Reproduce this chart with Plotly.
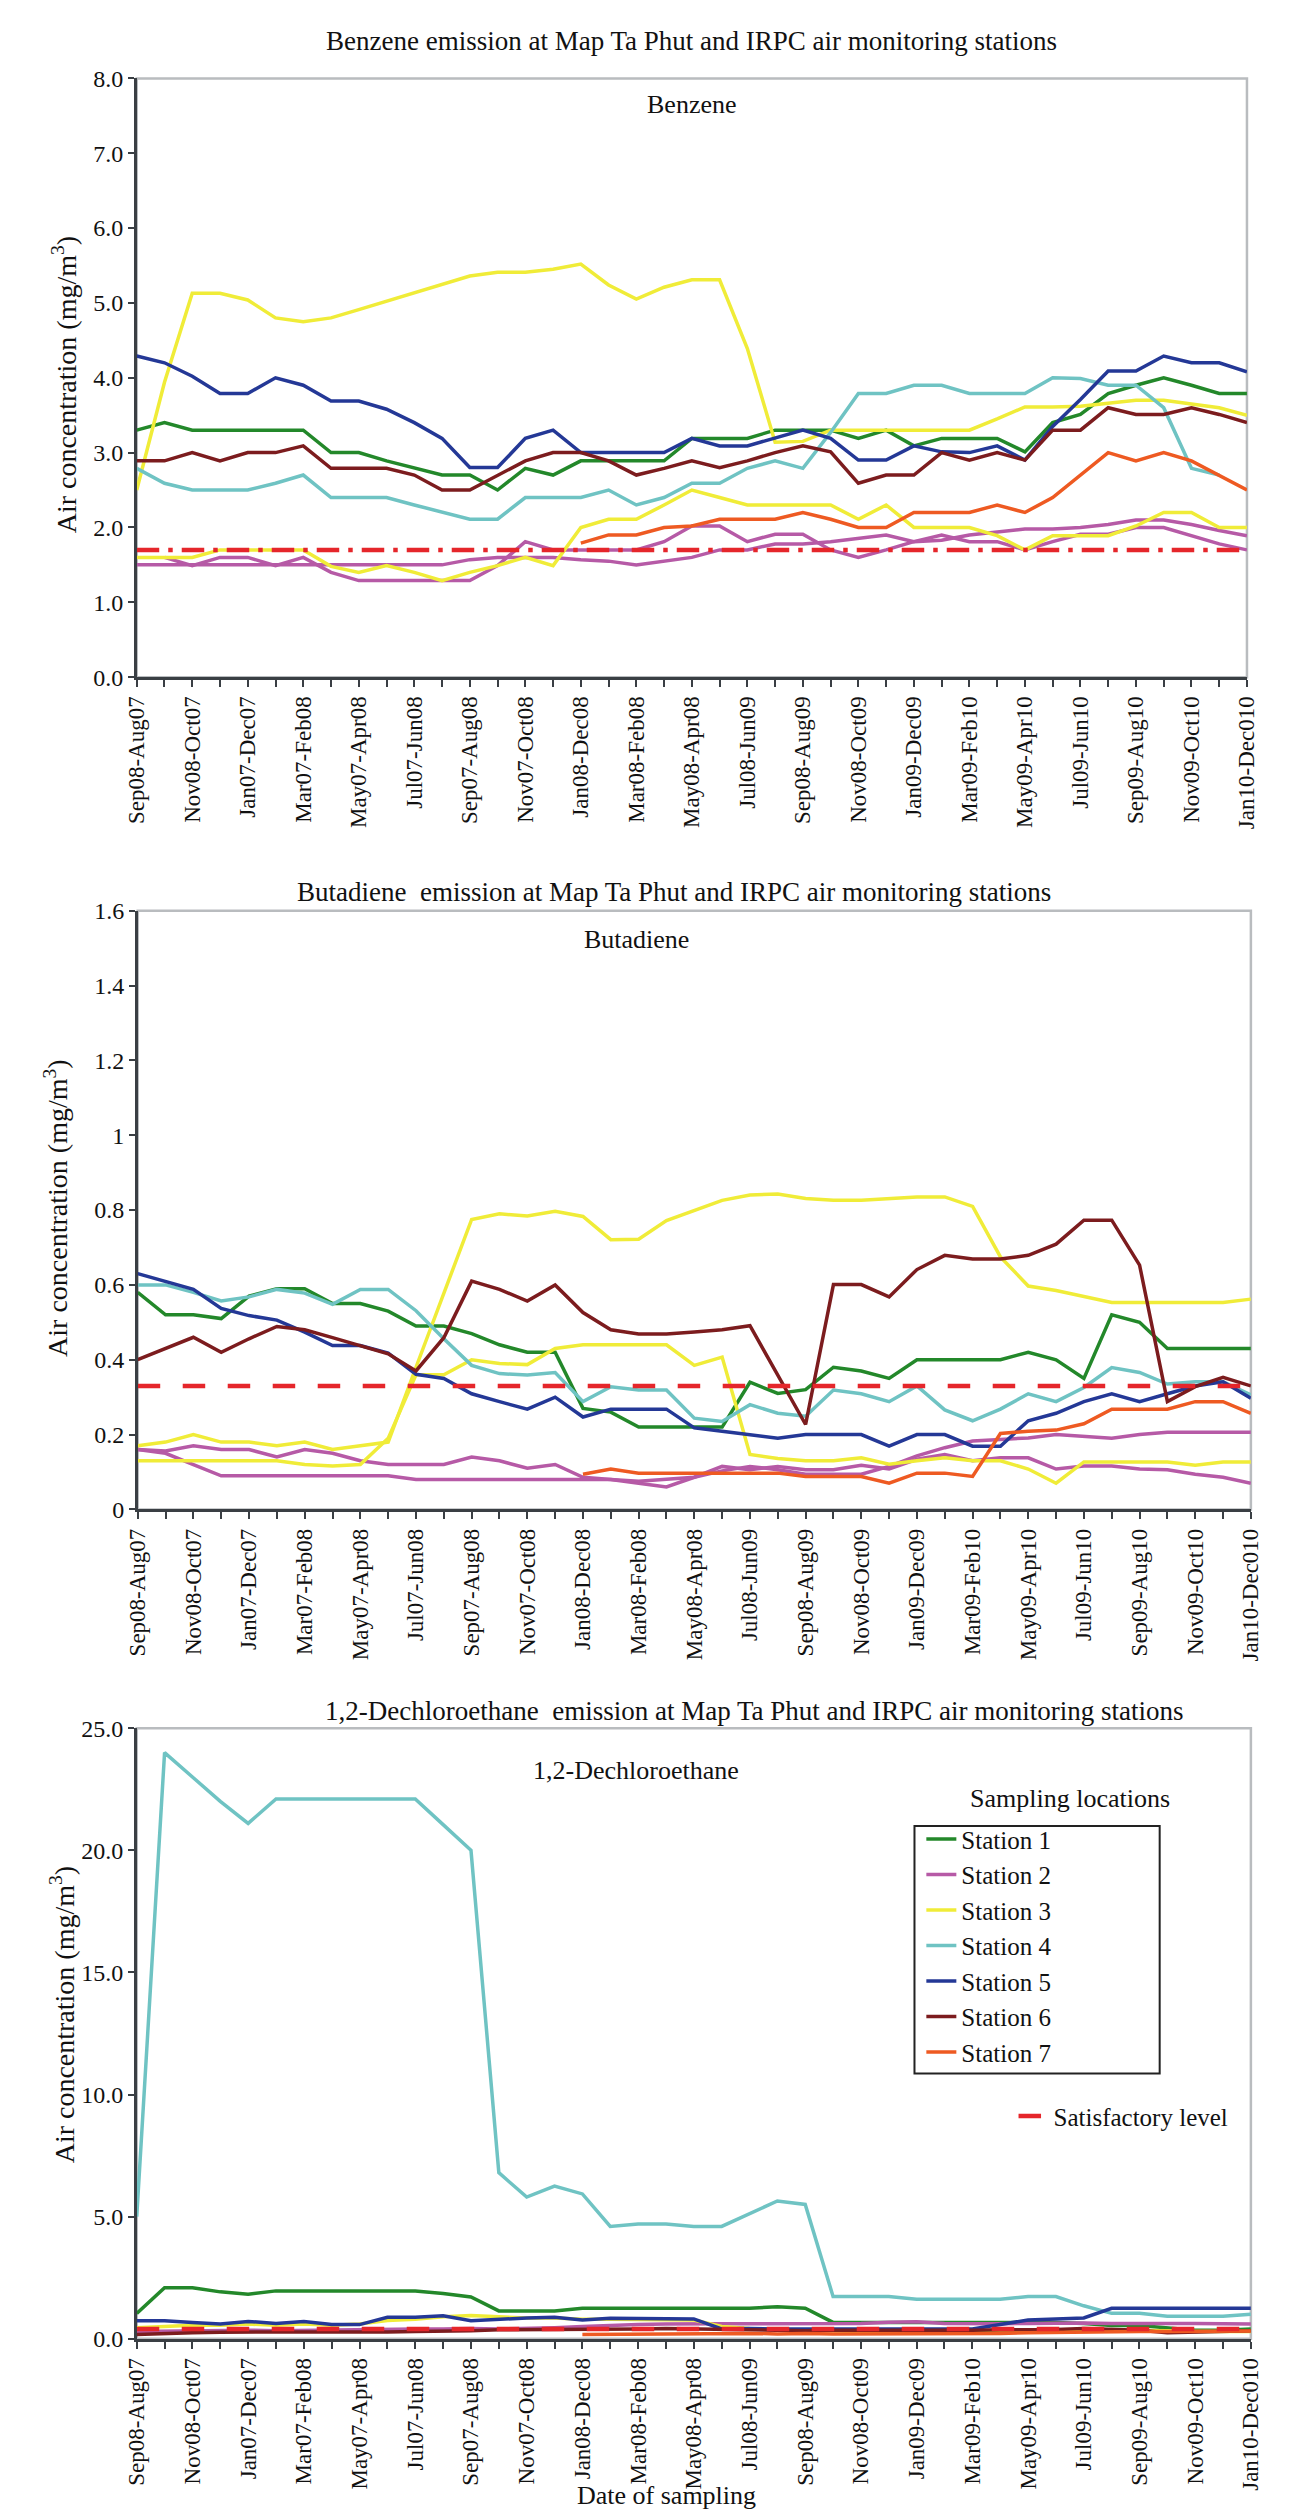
import plotly.graph_objects as go

W, H = 1300, 2512
FONT = "Liberation Serif, Times New Roman, serif"

# ---------------- data ----------------
x_idx = list(range(41))
tick_labels = ["Sep08-Aug07", "Nov08-Oct07", "Jan07-Dec07", "Mar07-Feb08", "May07-Apr08",
               "Jul07-Jun08", "Sep07-Aug08", "Nov07-Oct08", "Jan08-Dec08", "Mar08-Feb08",
               "May08-Apr08", "Jul08-Jun09", "Sep08-Aug09", "Nov08-Oct09", "Jan09-Dec09",
               "Mar09-Feb10", "May09-Apr10", "Jul09-Jun10", "Sep09-Aug10", "Nov09-Oct10",
               "Jan10-Dec010"]

station_names = ["Station 1", "Station 2", "Station 3", "Station 4", "Station 5", "Station 6", "Station 7"]
station_colors = ["#23882a", "#b65aa6", "#f0ec38", "#6fc3c3", "#243896", "#7c1c1e", "#ee5a22"]
limit_color = "#e5262b"

# Benzene
benzene_s1 = [3.3, 3.4, 3.3, 3.3, 3.3, 3.3, 3.3, 3.0, 3.0, 2.89, 2.79, 2.7, 2.7, 2.5, 2.79, 2.7, 2.89, 2.89, 2.89, 2.89, 3.19,
              3.19, 3.19, 3.3, 3.3, 3.3, 3.19, 3.3, 3.09, 3.19, 3.19, 3.19, 3.01, 3.4, 3.51, 3.79, 3.9, 4.0, 3.9, 3.79, 3.79]
benzene_s2a = [1.5, 1.5, 1.5, 1.5, 1.5, 1.5, 1.5, 1.5, 1.5, 1.5, 1.5, 1.5, 1.57, 1.6, 1.6, 1.6, 1.57, 1.55, 1.5, 1.55, 1.6,
               1.7, 1.7, 1.78, 1.78, 1.81, 1.86, 1.9, 1.81, 1.83, 1.9, 1.94, 1.98, 1.98, 2.0, 2.04, 2.1, 2.1, 2.04, 1.96, 1.89]
benzene_s2b = [None, 1.6, 1.49, 1.6, 1.6, 1.49, 1.6, 1.4, 1.29, 1.29, 1.29, 1.29, 1.29, 1.49, 1.81, 1.7, 1.7, 1.7, 1.7, 1.81, 2.02,
               2.02, 1.81, 1.91, 1.91, 1.7, 1.6, 1.7, 1.81, 1.9, 1.81, 1.81, 1.7, 1.81, 1.91, 1.91, 2.0, 2.0, 1.89, 1.78, 1.7]
benzene_s3a = [2.5, 3.94, 5.13, 5.13, 5.04, 4.8, 4.75, 4.8, 4.91, 5.02, 5.13, 5.24, 5.36, 5.41, 5.41, 5.45, 5.52, 5.24, 5.05, 5.21, 5.31,
               5.31, 4.39, 3.14, 3.15, 3.3, 3.3, 3.3, 3.3, 3.3, 3.3, 3.45, 3.61, 3.61, 3.62, 3.66, 3.7, 3.7, 3.65, 3.6, 3.5]
benzene_s3b = [1.6, 1.6, 1.6, 1.7, 1.7, 1.7, 1.7, 1.48, 1.4, 1.49, 1.4, 1.29, 1.4, 1.49, 1.6, 1.49, 2.0, 2.11, 2.11, 2.3, 2.5,
               2.4, 2.3, 2.3, 2.3, 2.3, 2.11, 2.3, 2.0, 2.0, 2.0, 1.89, 1.7, 1.89, 1.89, 1.89, 2.02, 2.2, 2.2, 2.0, 2.0]
benzene_s4 = [2.79, 2.59, 2.5, 2.5, 2.5, 2.59, 2.7, 2.4, 2.4, 2.4, 2.3, 2.2, 2.11, 2.11, 2.4, 2.4, 2.4, 2.5, 2.3, 2.4, 2.59,
              2.59, 2.79, 2.89, 2.79, 3.27, 3.79, 3.79, 3.9, 3.9, 3.79, 3.79, 3.79, 4.0, 3.99, 3.9, 3.9, 3.6, 2.79, 2.7, None]
benzene_s5 = [4.29, 4.2, 4.02, 3.79, 3.79, 4.0, 3.9, 3.69, 3.69, 3.58, 3.4, 3.19, 2.8, 2.8, 3.19, 3.3, 3.0, 3.0, 3.0, 3.0, 3.19,
              3.09, 3.09, 3.19, 3.3, 3.19, 2.9, 2.9, 3.09, 3.01, 3.0, 3.09, 2.9, 3.35, 3.71, 4.09, 4.09, 4.29, 4.2, 4.2, 4.08]
benzene_s6 = [2.89, 2.89, 3.0, 2.89, 3.0, 3.0, 3.09, 2.79, 2.79, 2.79, 2.7, 2.5, 2.5, 2.7, 2.89, 3.0, 3.0, 2.89, 2.7, 2.79, 2.89,
              2.8, 2.89, 3.0, 3.09, 3.01, 2.59, 2.7, 2.7, 3.0, 2.9, 3.0, 2.9, 3.3, 3.3, 3.6, 3.51, 3.51, 3.6, 3.51, 3.4]
benzene_s7 = [None] * 16 + [1.79, 1.9, 1.9, 2.0, 2.02,
                            2.11, 2.11, 2.11, 2.2, 2.11, 2.0, 2.0, 2.2, 2.2, 2.2, 2.3, 2.2, 2.4, 2.7, 3.0, 2.89, 3.0, 2.89, 2.7, 2.5]
benzene_limit = 1.7

# Butadiene
butadiene_s1 = [0.58, 0.52, 0.52, 0.51, 0.57, 0.59, 0.59, 0.55, 0.55, 0.53, 0.49, 0.49, 0.47, 0.44, 0.42, 0.42, 0.27, 0.26, 0.22, 0.22, 0.22,
                0.22, 0.34, 0.31, 0.32, 0.38, 0.37, 0.35, 0.4, 0.4, 0.4, 0.4, 0.42, 0.4, 0.35, 0.52, 0.5, 0.43, 0.43, 0.43, 0.43]
butadiene_s2a = [0.16, 0.156, 0.17, 0.16, 0.16, 0.14, 0.16, 0.15, 0.13, 0.12, 0.12, 0.12, 0.14, 0.13, 0.11, 0.12, 0.086, 0.08, 0.07, 0.06, 0.086,
                 0.115, 0.106, 0.115, 0.106, 0.106, 0.118, 0.108, 0.134, 0.147, 0.13, 0.138, 0.138, 0.108, 0.116, 0.116, 0.108, 0.106, 0.094, 0.086, 0.07]
butadiene_s2b = [0.16, 0.15, 0.12, 0.09, 0.09, 0.09, 0.09, 0.09, 0.09, 0.09, 0.08, 0.08, 0.08, 0.08, 0.08, 0.08, 0.08, 0.08, 0.075, 0.08, 0.086,
                 0.103, 0.115, 0.106, 0.094, 0.094, 0.094, 0.115, 0.143, 0.165, 0.183, 0.187, 0.191, 0.2, 0.196, 0.19, 0.2, 0.206, 0.206, 0.206, 0.206]
butadiene_s3a = [0.17, 0.18, 0.2, 0.18, 0.18, 0.17, 0.18, 0.16, 0.17, 0.18, 0.38, 0.58, 0.775, 0.79, 0.784, 0.797, 0.783, 0.721, 0.722, 0.772, 0.8,
                 0.826, 0.84, 0.843, 0.831, 0.826, 0.826, 0.83, 0.835, 0.835, 0.81, 0.675, 0.597, 0.585, 0.569, 0.553, 0.553, 0.553, 0.553, 0.553, 0.562]
butadiene_s3b = [0.13, 0.13, 0.13, 0.13, 0.13, 0.13, 0.12, 0.116, 0.12, 0.19, 0.36, 0.36, 0.4, 0.39, 0.387, 0.43, 0.44, 0.44, 0.44, 0.44, 0.385,
                 0.407, 0.147, 0.136, 0.13, 0.13, 0.138, 0.121, 0.13, 0.138, 0.13, 0.13, 0.108, 0.07, 0.127, 0.127, 0.127, 0.127, 0.118, 0.127, 0.127]
butadiene_s4 = [0.6, 0.6, 0.58, 0.557, 0.568, 0.588, 0.578, 0.548, 0.588, 0.588, 0.531, 0.456, 0.385, 0.363, 0.359, 0.366, 0.288, 0.328, 0.319, 0.319, 0.244,
                0.235, 0.28, 0.257, 0.249, 0.319, 0.309, 0.288, 0.33, 0.266, 0.237, 0.268, 0.309, 0.288, 0.326, 0.379, 0.366, 0.335, 0.341, 0.341, 0.306]
butadiene_s5 = [0.63, 0.61, 0.588, 0.537, 0.518, 0.506, 0.474, 0.438, 0.438, 0.418, 0.361, 0.35, 0.309, 0.288, 0.268, 0.3, 0.247, 0.268, 0.268, 0.268, 0.218,
                0.209, 0.2, 0.19, 0.2, 0.2, 0.2, 0.169, 0.2, 0.2, 0.169, 0.169, 0.237, 0.257, 0.288, 0.309, 0.288, 0.309, 0.33, 0.341, 0.297]
butadiene_s6 = [0.4, 0.43, 0.46, 0.42, 0.456, 0.489, 0.48, 0.459, 0.437, 0.416, 0.37, 0.459, 0.61, 0.588, 0.557, 0.6, 0.526, 0.48, 0.469, 0.469, 0.474,
                0.48, 0.491, 0.359, 0.227, 0.601, 0.601, 0.568, 0.641, 0.679, 0.669, 0.669, 0.679, 0.709, 0.773, 0.773, 0.653, 0.288, 0.328, 0.353, 0.33]
butadiene_s7 = [None] * 16 + [0.094, 0.108, 0.097, 0.097, 0.097,
                              0.097, 0.097, 0.097, 0.088, 0.088, 0.088, 0.07, 0.097, 0.097, 0.088, 0.203, 0.209, 0.212, 0.229, 0.268, 0.268, 0.268, 0.288, 0.288, 0.257]
butadiene_limit = 0.33

# 1,2-Dichloroethane
dce_s1 = [1.04, 2.09, 2.09, 1.92, 1.82, 1.96, 1.96, 1.96, 1.96, 1.96, 1.96, 1.85, 1.71, 1.14, 1.14, 1.14, 1.25, 1.25, 1.25, 1.25, 1.25,
          1.25, 1.25, 1.31, 1.25, 0.67, 0.67, 0.67, 0.67, 0.67, 0.67, 0.67, 0.67, 0.67, 0.62, 0.54, 0.54, 0.45, 0.35, 0.35, 0.4]
dce_s2 = [0.3, 0.32, 0.33, 0.33, 0.35, 0.33, 0.35, 0.35, 0.38, 0.38, 0.4, 0.4, 0.42, 0.4, 0.42, 0.45, 0.5, 0.55, 0.58, 0.6, 0.62,
          0.61, 0.61, 0.61, 0.61, 0.63, 0.63, 0.68, 0.7, 0.63, 0.61, 0.61, 0.63, 0.65, 0.65, 0.63, 0.63, 0.65, 0.63, 0.61, 0.6]
dce_s3 = [0.45, 0.5, 0.55, 0.55, 0.6, 0.55, 0.6, 0.55, 0.6, 0.75, 0.8, 0.9, 0.95, 0.9, 0.85, 0.85, 0.8, 0.8, 0.8, 0.78, 0.77,
          0.5, 0.42, 0.38, 0.35, 0.32, 0.3, 0.3, 0.32, 0.3, 0.3, 0.32, 0.3, 0.32, 0.33, 0.35, 0.35, 0.33, 0.3, 0.3, 0.3]
dce_s4 = [5.0, 24.0, 23.0, 22.0, 21.1, 22.1, 22.1, 22.1, 22.1, 22.1, 22.1, 21.05, 20.0, 6.8, 5.8, 6.25, 5.93, 4.6, 4.7, 4.7, 4.6,
          4.6, 5.13, 5.64, 5.5, 1.73, 1.73, 1.73, 1.62, 1.62, 1.62, 1.62, 1.73, 1.73, 1.35, 1.04, 1.04, 0.92, 0.92, 0.92, 1.0]
dce_s5 = [0.74, 0.74, 0.67, 0.6, 0.71, 0.63, 0.71, 0.58, 0.58, 0.88, 0.88, 0.94, 0.74, 0.81, 0.85, 0.88, 0.77, 0.84, 0.84, 0.81, 0.81,
          0.4, 0.42, 0.4, 0.4, 0.4, 0.4, 0.4, 0.4, 0.4, 0.4, 0.58, 0.77, 0.81, 0.85, 1.25, 1.25, 1.25, 1.25, 1.25, 1.25]
dce_s6 = [0.17, 0.22, 0.25, 0.27, 0.27, 0.28, 0.27, 0.28, 0.25, 0.28, 0.3, 0.3, 0.33, 0.37, 0.37, 0.38, 0.4, 0.4, 0.4, 0.42, 0.4,
          0.38, 0.37, 0.35, 0.33, 0.35, 0.35, 0.33, 0.33, 0.35, 0.35, 0.37, 0.37, 0.38, 0.42, 0.4, 0.35, 0.25, 0.27, 0.3, 0.33]
dce_s7 = [None] * 16 + [0.17, 0.18, 0.18, 0.2, 0.2,
                        0.22, 0.22, 0.2, 0.22, 0.2, 0.2, 0.22, 0.22, 0.2, 0.2, 0.22, 0.25, 0.27, 0.27, 0.3, 0.3, 0.3, 0.3, 0.3, 0.32]
dce_limit = 0.4

# ---------------- figure ----------------
def fx(px):
    return px / W


def fy(py):
    return 1 - py / H


fig = go.Figure()

panels = [
    dict(sx="x", sy="y", xd=(118, 1250), yd=(58, 663), yr=[0, 8], dtick=1, fmt=".1f",
         series=[(0, benzene_s1), (1, benzene_s2a), (1, benzene_s2b), (2, benzene_s3a), (2, benzene_s3b),
                 (3, benzene_s4), (4, benzene_s5), (5, benzene_s6), (6, benzene_s7)],
         limit=benzene_limit, dash="longdashdot"),
    dict(sx="x2", sy="y2", xd=(119, 1254), yd=(899, 1504), yr=[0, 1.6], dtick=0.2, fmt="",
         series=[(0, butadiene_s1), (1, butadiene_s2a), (1, butadiene_s2b), (2, butadiene_s3a), (2, butadiene_s3b),
                 (3, butadiene_s4), (4, butadiene_s5), (5, butadiene_s6), (6, butadiene_s7)],
         limit=butadiene_limit, dash="longdash"),
    dict(sx="x3", sy="y3", xd=(118, 1254), yd=(1725, 2342), yr=[0, 25], dtick=5, fmt=".1f",
         series=[(0, dce_s1), (1, dce_s2), (2, dce_s3), (3, dce_s4), (4, dce_s5), (5, dce_s6), (6, dce_s7)],
         limit=dce_limit, dash="longdash"),
]

axis_col = "#3a3f44"
layout_axes = {}
shapes = []
for k, p in enumerate(panels):
    last = (k == 2)
    for si, ys in p["series"]:
        fig.add_trace(go.Scatter(
            x=x_idx, y=ys, mode="lines", name=station_names[si],
            line=dict(color=station_colors[si], width=3.5),
            xaxis=p["sx"], yaxis=p["sy"], showlegend=last, legend="legend",
            connectgaps=False, hoverinfo="skip"))
    fig.add_trace(go.Scatter(
        x=[x_idx[0], x_idx[-1]], y=[p["limit"], p["limit"]], mode="lines", name="Satisfactory level",
        line=dict(color=limit_color, width=4.5, dash=p["dash"]),
        xaxis=p["sx"], yaxis=p["sy"], showlegend=last, legend="legend2", hoverinfo="skip"))

    xname = "xaxis" if k == 0 else f"xaxis{k+1}"
    yname = "yaxis" if k == 0 else f"yaxis{k+1}"
    layout_axes[xname] = dict(
        domain=[fx(p["xd"][0]), fx(p["xd"][1])], anchor=p["sy"], range=[0, 40],
        tickmode="array", tickvals=x_idx[::2], ticktext=tick_labels, tickangle=-90,
        ticks="outside", ticklen=7, tickwidth=2, tickcolor=axis_col,
        minor=dict(tickmode="array", tickvals=x_idx[1::2], ticks="outside", ticklen=7,
                   tickwidth=2, tickcolor=axis_col, showgrid=False),
        showline=True, linecolor=axis_col, linewidth=3, showgrid=False, zeroline=False,
        tickfont=dict(family=FONT, size=23, color="#111"), fixedrange=True)
    layout_axes[yname] = dict(
        domain=[fy(p["yd"][1]), fy(p["yd"][0])], anchor=p["sx"], range=p["yr"],
        dtick=p["dtick"], tick0=0, tickformat=p["fmt"],
        ticks="outside", ticklen=6, tickwidth=2, tickcolor=axis_col,
        showline=True, linecolor=axis_col, linewidth=2.5, showgrid=False, zeroline=False,
        tickfont=dict(family=FONT, size=24, color="#111"), fixedrange=True)
    shapes.append(dict(type="rect", xref=f"{p['sx']} domain", yref=f"{p['sy']} domain",
                       x0=0, x1=1, y0=0, y1=1, line=dict(color="#b9bcbf", width=2.5), layer="below"))

# legend frame
shapes.append(dict(type="rect", xref="paper", yref="paper", x0=fx(911), x1=fx(1161), y0=fy(2074), y1=fy(1824),
                   line=dict(color="#222", width=2), layer="above"))

title_font = dict(family=FONT, size=27, color="#111")
annotations = []
for txt, px_, py_ in [("Benzene emission at Map Ta Phut and IRPC air monitoring stations", 684, 20),
                      ("Butadiene  emission at Map Ta Phut and IRPC air monitoring stations", 666, 880),
                      ("1,2-Dechloroethane  emission at Map Ta Phut and IRPC air monitoring stations", 748, 1708)]:
    annotations.append(dict(text=txt, x=fx(px_), y=fy(py_), xref="paper", yref="paper",
                            xanchor="center", yanchor="middle", showarrow=False, font=title_font))

label_font = dict(family=FONT, size=26, color="#111")
for txt, px_, py_ in [("Benzene", 684, 84), ("Butadiene", 628, 928), ("1,2-Dechloroethane", 627, 1768),
                      ("Sampling locations", 1070, 1796), ("Date of sampling", 658, 2500)]:
    annotations.append(dict(text=txt, x=fx(px_), y=fy(py_), xref="paper", yref="paper",
                            xanchor="center", yanchor="middle", showarrow=False, font=label_font,
                            bgcolor="rgba(255,255,255,0)"))

ytitle = "Air concentration (mg/m<sup>3</sup>)"
for px_, py_ in [(44, 368), (36, 1200), (42, 2015)]:
    annotations.append(dict(text=ytitle, x=fx(px_), y=fy(py_), xref="paper", yref="paper",
                            xanchor="center", yanchor="middle", textangle=-90, showarrow=False,
                            font=dict(family=FONT, size=28, color="#111")))

fig.update_layout(
    width=W, height=H, margin=dict(l=0, r=0, t=0, b=0),
    paper_bgcolor="white", plot_bgcolor="white",
    font=dict(family=FONT, color="#111"),
    legend=dict(x=fx(918), y=fy(1814), xanchor="left", yanchor="top", bgcolor="rgba(0,0,0,0)",
                borderwidth=0, font=dict(family=FONT, size=25, color="#111"), tracegroupgap=0,
                itemclick=False, itemdoubleclick=False),
    legend2=dict(x=fx(1012), y=fy(2094), xanchor="left", yanchor="top", bgcolor="rgba(0,0,0,0)",
                 borderwidth=0, font=dict(family=FONT, size=25, color="#111"),
                 itemclick=False, itemdoubleclick=False),
    shapes=shapes, annotations=annotations,
    **layout_axes,
)

fig.write_html("out.html")
